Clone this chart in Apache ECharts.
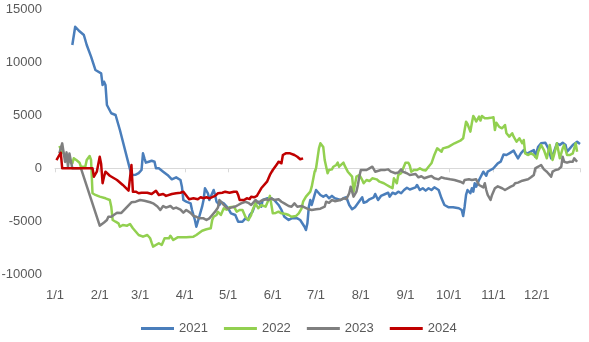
<!DOCTYPE html>
<html>
<head>
<meta charset="utf-8">
<script src="https://cdn.jsdelivr.net/npm/echarts@6/dist/echarts.min.js"></script>
<style>
  html, body { margin: 0; padding: 0; background: #ffffff; }
  #chart { width: 589px; height: 342px; }
</style>
</head>
<body>
<div id="chart"></div>
<script>
// Calendar of one (non-leap) year: one category per day, labelled at month starts.
const monthLengths = [31, 28, 31, 30, 31, 30, 31, 31, 30, 31, 30, 31];
const monthLabels = ['1/1', '2/1', '3/1', '4/1', '5/1', '6/1', '7/1', '8/1', '9/1', '10/1', '11/1', '12/1'];
const yMin = -10000;
const yMax = 15000;
const yStep = 5000;

const seriesNames = ['2021', '2022', '2023', '2024'];

// [day of year (0 = 1/1), value]
const data2021 = [
  [12, 11610], [14, 13330], [17, 12900], [20, 12550], [21, 12450], [22, 11610], [25, 10510], [28, 9260], [32, 8945], [33, 7845],
  [34, 8150], [35, 7850], [36, 5960], [39, 5180], [40, 5330], [42, 5020], [45, 3605], [52, -100], [53, -630], [56, -600],
  [58, -450], [60, -160], [61, 1410], [62, 940], [63, 530], [65, 620], [67, 715], [69, 620], [70, 0], [72, 0],
  [73, 150], [75, -320], [78, -630], [81, -1040], [84, -850], [87, -1100], [88, -1730], [89, -2985], [91, -3145], [94, -3300],
  [95, -3925], [97, -4870], [98, -5500], [100, -4560], [102, -3615], [103, -2985], [104, -1880], [106, -2350], [107, -2985], [108, -2900],
  [110, -2045], [111, -2510], [112, -3145], [114, -3455], [115, -3150], [117, -3300], [120, -3750], [122, -4240], [125, -4400], [127, -5030],
  [128, -4870], [130, -5030], [132, -4710], [134, -4870], [135, -4400], [137, -4085], [139, -3300], [141, -3145], [143, -3615], [144, -2985],
  [147, -2825], [150, -2825], [152, -2985], [155, -3455], [157, -3925], [159, -4560], [162, -4870], [164, -4710], [168, -4710], [170, -4870],
  [171, -4870], [173, -5500], [174, -5810], [175, -5180], [176, -3615], [177, -2985], [178, -3455], [180, -2510], [181, -2045], [182, -1880],
  [184, -2510], [186, -2670], [188, -2510], [190, -2825], [192, -2600], [194, -2825], [195, -2750], [198, -2985], [200, -2825], [202, -2730],
  [204, -3455], [206, -3860], [208, -3670], [210, -3300], [213, -2730], [214, -3240], [216, -3150], [218, -2920], [221, -2730], [222, -2420],
  [224, -2985], [226, -2600], [229, -2420], [231, -2300], [232, -2670], [234, -2300], [236, -2420], [238, -2200], [240, -2350], [242, -2045],
  [244, -1830], [246, -2000], [250, -1790], [251, -1570], [253, -2045], [255, -1880], [257, -2100], [259, -1880], [261, -2045], [263, -1790],
  [266, -2045], [268, -2825], [269, -2985], [270, -3455], [273, -3670], [276, -3670], [280, -3765], [282, -3925], [283, -4490], [284, -3615],
  [285, -2510], [286, -2045], [288, -2350], [289, -1880], [290, -2200], [291, -1410], [292, -1730], [294, -1100], [295, -1260], [297, -320],
  [299, -700], [300, -320], [302, -160], [304, 0], [305, 150], [307, 470], [309, 620], [311, 1300], [313, 1250], [315, 1410],
  [318, 1660], [319, 1410], [321, 940], [323, 1410], [325, 1720], [327, 1350], [329, 1500], [332, 1720], [333, 1090], [335, 2035],
  [337, 2355], [340, 2410], [342, 1880], [344, 940], [346, 1560], [348, 2355], [350, 2195], [352, 2410], [354, 2195], [355, 1560],
  [357, 1880], [359, 2195], [362, 2500], [364, 2290]
];

const data2022 = [
  [3, 2100], [5, 1560], [7, 1250], [8, 940], [9, 700], [12, 470], [13, 940], [15, 750], [17, 530], [18, 150],
  [21, 150], [22, 780], [24, 1160], [25, 780], [26, -2350], [28, -2510], [31, -2670], [35, -2825], [38, -2985], [39, -3615],
  [40, -4870], [42, -5030], [44, -5180], [45, -5500], [47, -5340], [50, -5400], [52, -5245], [54, -5650], [55, -5750], [58, -6280],
  [59, -6400], [61, -6440], [64, -6280], [66, -6590], [67, -7000], [68, -7380], [69, -7380], [72, -7060], [73, -7200], [74, -7220],
  [76, -6590], [77, -6750], [79, -6590], [80, -6350], [82, -6750], [85, -6500], [88, -6500], [91, -6500], [96, -6440], [98, -6280],
  [102, -5875], [105, -5745], [108, -5650], [109, -4870], [110, -4560], [112, -4400], [113, -4100], [115, -4400], [117, -3765], [119, -3900],
  [121, -3670], [124, -3615], [126, -4085], [128, -3925], [130, -3925], [132, -4560], [134, -4870], [136, -4400], [137, -3925], [139, -3300],
  [141, -3765], [143, -3455], [146, -3615], [148, -2985], [149, -2600], [151, -4240], [153, -4200], [155, -4085], [157, -4240], [160, -4300],
  [162, -4400], [164, -4560], [167, -4500], [169, -4240], [171, -3765], [172, -3145], [174, -2670], [177, -2200], [178, -1730], [180, -320],
  [181, 0], [183, 1880], [184, 2355], [186, 2000], [187, 780], [189, -470], [190, -160], [192, -100], [193, 150], [195, 310],
  [196, 530], [197, 150], [198, 310], [200, 530], [201, 200], [203, -320], [204, -470], [206, -790], [207, -2200], [208, -2350],
  [209, -790], [210, -940], [211, -630], [213, -1100], [214, -1410], [216, -1100], [218, -1200], [220, -940], [221, -790], [223, -1040],
  [225, -1260], [228, -1410], [230, -1570], [232, -1730], [234, -1880], [235, -940], [237, -1410], [238, -630], [240, -470], [241, -320],
  [243, 530], [245, 530], [246, 250], [247, -320], [249, -150], [251, -160], [253, 0], [255, -160], [257, -200], [259, 150],
  [261, 470], [263, 1250], [265, 1880], [266, 2035], [268, 1560], [269, 1880], [270, 1790], [273, 2035], [277, 2355], [281, 2600],
  [283, 2825], [284, 3605], [285, 4390], [286, 4170], [288, 3450], [289, 4240], [290, 4925], [291, 4710], [292, 4400], [294, 4860],
  [295, 4500], [296, 4925], [298, 4710], [300, 4710], [302, 4750], [304, 4800], [305, 3605], [306, 4290], [308, 3900], [310, 3770],
  [312, 4080], [313, 3300], [315, 2980], [317, 3300], [318, 2980], [320, 2500], [322, 2825], [324, 2355], [325, 2665], [326, 1410],
  [328, 1250], [330, 1410], [332, 1250], [334, 940], [335, 1560], [337, 2195], [339, 1720], [341, 940], [343, 2195], [345, 780],
  [346, 1250], [348, 2355], [350, 940], [352, 1880], [353, 2195], [355, 1250], [357, 1250], [359, 1410], [361, 2355], [362, 1560]
];

const data2023 = [
  [3, 1400], [5, 2350], [7, 600], [8, 1500], [9, 150], [10, 1400], [12, 0], [18, 0], [31, -5400], [34, -5100],
  [36, -4870], [37, -4560], [39, -4560], [43, -4180], [44, -4085], [46, -4200], [49, -3765], [50, -3900], [53, -3200], [56, -3145],
  [59, -2985], [62, -3050], [66, -3200], [68, -3300], [71, -3600], [73, -3925], [75, -3550], [77, -3700], [80, -3550], [82, -3800],
  [84, -3700], [87, -3900], [89, -4180], [91, -3925], [94, -4200], [96, -4490], [98, -4560], [100, -4710], [103, -4710], [105, -4870],
  [107, -4710], [109, -4400], [111, -4085], [113, -3700], [114, -2985], [116, -3300], [118, -3600], [120, -3800], [122, -3700], [125, -3600],
  [127, -3455], [129, -3300], [132, -3150], [134, -3250], [136, -3455], [139, -2985], [141, -3250], [143, -3050], [146, -2920], [148, -2985],
  [150, -2825], [152, -2985], [155, -2920], [157, -3150], [159, -3300], [162, -3550], [164, -3615], [166, -3300], [168, -3615], [171, -3550],
  [173, -3670], [176, -3860], [178, -3925], [181, -3860], [184, -3800], [185, -3925], [187, -3615], [188, -3145], [190, -3250], [192, -2985],
  [194, -3100], [195, -2920], [198, -2985], [200, -2825], [202, -2900], [203, -2730], [204, -2350], [205, -1730], [206, -2200], [207, -2670],
  [209, -2200], [210, -1570], [211, -790], [212, -160], [213, 0], [216, -160], [218, 0], [220, 150], [222, -320], [226, -160],
  [229, -150], [231, -100], [233, -320], [236, -470], [238, -400], [240, -100], [241, -320], [244, -470], [246, -630], [250, -540],
  [252, -850], [254, -750], [256, -940], [259, -800], [261, -725], [263, -940], [266, -1040], [268, -850], [270, -940], [274, -1040],
  [277, -1100], [281, -1260], [283, -1410], [284, -1100], [285, -1260], [287, -1040], [289, -1100], [292, -1040], [294, -1570], [295, -1730],
  [297, -1800], [298, -1410], [299, -2045], [300, -2510], [302, -2985], [303, -2510], [305, -1880], [307, -1700], [310, -1880], [312, -2045],
  [316, -1730], [318, -1600], [319, -1410], [321, -1350], [324, -1165], [326, -1100], [328, -1040], [330, -850], [332, -630], [333, 0],
  [335, 150], [336, 0], [337, 310], [339, -100], [341, -320], [342, -160], [344, -790], [345, -320], [347, -160], [349, -100],
  [351, 150], [352, 1090], [353, 620], [355, 530], [357, 620], [359, 620], [360, 940], [362, 620]
];

const data2024 = [
  [1, 780], [2, 900], [4, 1470], [5, 0], [26, 0], [27, -790], [29, -320], [31, 1090], [32, 400], [33, -1410],
  [34, -790], [35, -320], [38, -700], [43, -1100], [47, -1570], [51, -2100], [52, -2150], [53, 300], [54, -2200], [56, -2200],
  [58, -2350], [60, -2300], [61, -2420], [64, -2300], [67, -2420], [70, -2110], [72, -2510], [75, -2420], [77, -2600], [81, -2420],
  [84, -2350], [87, -2300], [89, -2200], [90, -2200], [93, -2920], [96, -2825], [99, -2920], [101, -2730], [103, -2825], [105, -2730],
  [107, -2825], [111, -2600], [113, -2350], [116, -2300], [118, -2200], [121, -2300], [124, -2200], [126, -2200], [127, -2510], [128, -2985],
  [131, -2985], [133, -2825], [135, -2900], [136, -2670], [138, -2730], [140, -2600], [141, -2350], [143, -1880], [144, -1730], [147, -1260],
  [149, -630], [151, -160], [154, 400], [155, 620], [157, 470], [158, 1250], [160, 1410], [163, 1410], [164, 1250], [166, 1250],
  [168, 1090], [170, 850], [171, 1000], [172, 940]
];

const seriesData = [data2021, data2022, data2023, data2024];
const seriesColors = ['#4a7ebb', '#92d050', '#7f7f7f', '#c00000'];

// Day categories '1/1' ... '12/31'
const dayCategories = [];
monthLengths.forEach((len, m) => {
  for (let d = 1; d <= len; d++) dayCategories.push((m + 1) + '/' + d);
});
const isMonthStart = (index, value) => monthLabels.includes(value);

const textFont = { color: '#595959', fontSize: 13, fontFamily: 'Liberation Sans, Arial, sans-serif' };

const chart = echarts.init(document.getElementById('chart'), null, { renderer: 'canvas' });

chart.setOption({
  animation: false,
  backgroundColor: '#ffffff',
  grid: { left: 55, right: 9, top: 9, bottom: 67.5, containLabel: false, outerBoundsMode: 'none' },
  legend: {
    data: seriesNames,
    left: 136,
    top: 317,
    icon: 'rect',
    itemWidth: 33,
    itemHeight: 3,
    itemGap: 16,
    textStyle: textFont
  },
  xAxis: [
    {
      // month labels along the bottom edge
      type: 'category',
      data: dayCategories,
      boundaryGap: false,
      position: 'bottom',
      axisLine: { show: false, onZero: false },
      axisTick: { show: false },
      splitLine: { show: false },
      axisLabel: Object.assign({ interval: isMonthStart, margin: 14 }, textFont)
    },
    {
      // zero line with month ticks
      type: 'category',
      data: dayCategories,
      boundaryGap: false,
      position: 'top',
      axisLine: { show: true, onZero: true, lineStyle: { color: '#d9d9d9', width: 1 } },
      axisTick: {
        show: true,
        inside: true,
        length: 4,
        interval: (index, value) => isMonthStart(index, value) || index === dayCategories.length - 1,
        lineStyle: { color: '#d9d9d9' }
      },
      axisLabel: { show: false },
      splitLine: { show: false }
    }
  ],
  yAxis: {
    type: 'value',
    min: yMin,
    max: yMax,
    interval: yStep,
    axisLine: { show: false },
    axisTick: { show: false },
    splitLine: { show: false },
    axisLabel: Object.assign({ margin: 13, formatter: (v) => String(v) }, textFont)
  },
  series: seriesNames.map((name, i) => ({
    name: name,
    type: 'line',
    xAxisIndex: 0,
    data: seriesData[i],
    showSymbol: false,
    symbol: 'none',
    color: seriesColors[i],
    lineStyle: { color: seriesColors[i], width: 2.5, join: 'round' },
    z: 2 + i
  }))
});
</script>
</body>
</html>
